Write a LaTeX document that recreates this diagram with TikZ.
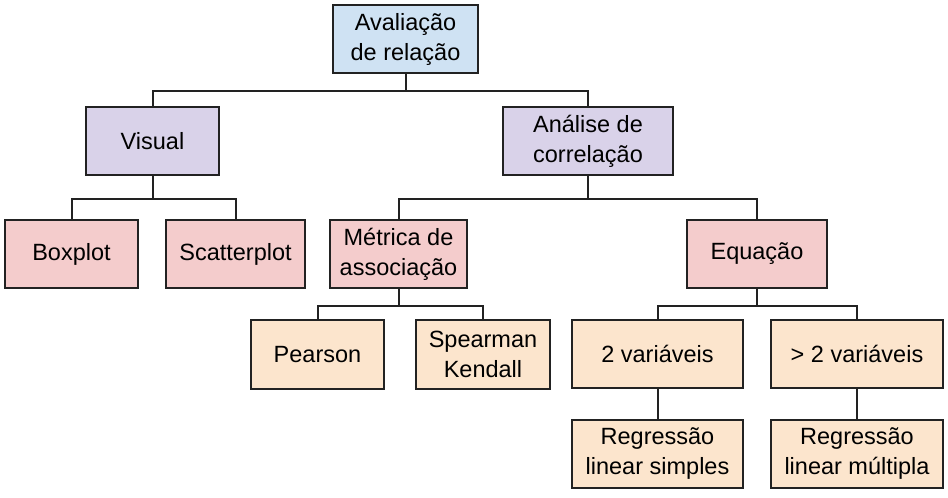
\documentclass[tikz,border=0pt]{standalone}
\usepackage{fontspec}
\setmainfont{Liberation Sans}
\definecolor{cblue}{HTML}{CFE2F3}
\definecolor{cpurple}{HTML}{D9D2E9}
\definecolor{cpink}{HTML}{F4CCCC}
\definecolor{corange}{HTML}{FCE5CD}
\definecolor{cline}{HTML}{222222}
\begin{document}
\begin{tikzpicture}[x=1pt,y=-1pt,
  box/.style={draw=cline, line width=1.3pt, rectangle, minimum height=68pt, inner sep=0pt,
    align=center, font=\fontsize{23.5}{30}\selectfont, text=black},
  conn/.style={draw=cline, line width=2pt}]
\useasboundingbox (0,0) rectangle (948,498);
\fill[white] (0,0) rectangle (948,498);
\node[box, fill=cblue, minimum width=145pt] (root) at (405.5,39) {Avaliação\\de relação};
\node[box, fill=cpurple, minimum width=133pt] (vis) at (152.5,141) {Visual};
\node[box, fill=cpurple, minimum width=170pt] (ana) at (588,141) {Análise de\\correlação};
\node[box, fill=cpink, minimum width=133pt] (boxp) at (71.5,254) {Boxplot};
\node[box, fill=cpink, minimum width=139pt] (scat) at (235.5,254) {Scatterplot};
\node[box, fill=cpink, minimum width=137pt] (met) at (398.5,254) {Métrica de\\associação};
\node[box, fill=cpink, minimum width=140pt] (equ) at (757,254) {Equação};
\node[box, fill=corange, minimum width=133pt, minimum height=69pt] (pea) at (317.5,354.5) {Pearson};
\node[box, fill=corange, minimum width=134pt, minimum height=69pt] (spe) at (483,354.5) {Spearman\\Kendall};
\node[box, fill=corange, minimum width=171pt] (v2) at (657.5,354) {2 variáveis};
\node[box, fill=corange, minimum width=172pt] (vg2) at (857,354) {> 2 variáveis};
\node[box, fill=corange, minimum width=171pt] (rs) at (657.5,454) {Regressão\\linear simples};
\node[box, fill=corange, minimum width=172pt] (rm) at (857,454) {Regressão\\linear múltipla};
\draw[conn] (root.south) -- ++(0,17) -| (vis.north);
\draw[conn] (root.south) -- ++(0,17) -| (ana.north);
\draw[conn] (vis.south) -- ++(0,23) -| (boxp.north);
\draw[conn] (vis.south) -- ++(0,23) -| (scat.north);
\draw[conn] (ana.south) -- ++(0,23) -| (met.north);
\draw[conn] (ana.south) -- ++(0,23) -| (equ.north);
\draw[conn] (met.south) -- ++(0,17) -| (pea.north);
\draw[conn] (met.south) -- ++(0,17) -| (spe.north);
\draw[conn] (equ.south) -- ++(0,17) -| (v2.north);
\draw[conn] (equ.south) -- ++(0,17) -| (vg2.north);
\draw[conn] (v2.south) -- (rs.north);
\draw[conn] (vg2.south) -- (rm.north);
\end{tikzpicture}
\end{document}
